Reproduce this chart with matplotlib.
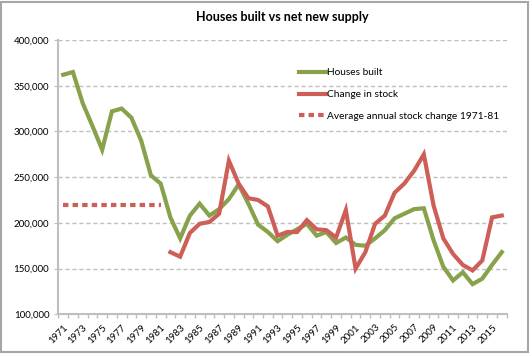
# Houses built vs net new supply (UK), recreated from the Excel-style chart

import numpy as np
import matplotlib
matplotlib.use("Agg")
import matplotlib.pyplot as plt
from matplotlib.patches import Rectangle
from matplotlib.ticker import FuncFormatter, MultipleLocator

years = list(range(1971, 2017))

houses_built = [
    362000, 365000, 331000, 306000, 280000, 322000, 325000, 315000, 290000, 252000,
    243000, 206000, 183000, 208000, 221000, 208000, 215000, 226000, 242000, 221000,
    198000, 190000, 180000, 187000, 193000, 199000, 186000, 190000, 178000, 184000,
    176000, 175000, 183000, 192000, 205000, 210000, 215000, 216000, 181000, 152000,
    137000, 146000, 133000, 139000, 154000, 168000,
]

# no stock change figures before 1982
change_in_stock = [None] * 11 + [
    168000, 163000, 189000, 199000, 201000, 210000, 268000, 243000, 227000,
    225000, 218000, 186000, 190000, 190000, 203000, 193000, 192000, 184000, 214000,
    150000, 168000, 199000, 208000, 233000, 243000, 257000, 275000, 219000, 183000,
    166000, 154000, 148000, 159000, 206000, 208000,
]

avg_change_1971_81 = 220000
avg_years = list(range(1971, 1982))

GREEN = "#87a24a"
RED = "#cd5f58"
GRID = "#bfbfbf"

plt.rcParams["font.family"] = ["Lato", "DejaVu Sans"]

fig = plt.figure(figsize=(5.32, 3.56), dpi=100)
ax = fig.add_axes([0.1096, 0.1171, 0.9524 - 0.1096, 0.8876 - 0.1171])

x = np.arange(len(years))
stock = np.array([np.nan if v is None else v for v in change_in_stock], dtype=float)
avg_x = [years.index(y) for y in avg_years]

ax.plot(x, houses_built, color=GREEN, lw=3, solid_joinstyle="miter", label="Houses built")
ax.plot(x, stock, color=RED, lw=3, solid_joinstyle="miter", label="Change in stock")
ax.plot(avg_x, [avg_change_1971_81] * len(avg_x), color=RED, lw=3,
        dashes=(1.3, 1.0), label="Average annual stock change 1971-81")

ax.set_xlim(-0.5, len(years) - 0.5)
ax.set_ylim(100000, 400000)
ax.yaxis.set_major_locator(MultipleLocator(50000))
ax.yaxis.set_major_formatter(FuncFormatter(lambda v, p: f"{int(v):,}"))
ax.grid(axis="y", color=GRID, ls=(0, (3, 2)), lw=1)
ax.set_axisbelow(True)

# category ticks between the years, labels on every other year
ax.set_xticks(np.arange(-0.5, len(years), 1), minor=True)
ax.set_xticks(x[::2])
ax.set_xticklabels([str(y) for y in years[::2]], rotation=45, ha="right",
                   rotation_mode="anchor", fontsize=7)
ax.tick_params(axis="x", which="major", length=0, pad=6)
ax.tick_params(axis="x", which="minor", length=3, color=GRID, width=1)
ax.tick_params(axis="y", length=3, color=GRID, labelsize=7)

for side in ["top", "right"]:
    ax.spines[side].set_visible(False)
for side in ["left", "bottom"]:
    ax.spines[side].set_color(GRID)
    ax.spines[side].set_linewidth(1.5)

ax.set_title("Houses built vs net new supply", fontsize=9, fontweight="bold", pad=14)

ax.legend(loc="upper left", bbox_to_anchor=(0.516, 0.93), frameon=False,
          fontsize=7.3, handlelength=2.7, handletextpad=0.08, labelspacing=1.25)

fig.patches.append(Rectangle((0.002, 0.01), 0.99, 0.985, transform=fig.transFigure,
                             fill=False, edgecolor="#a6a6a6", lw=1.5))

fig.savefig("out.png", dpi=100)
